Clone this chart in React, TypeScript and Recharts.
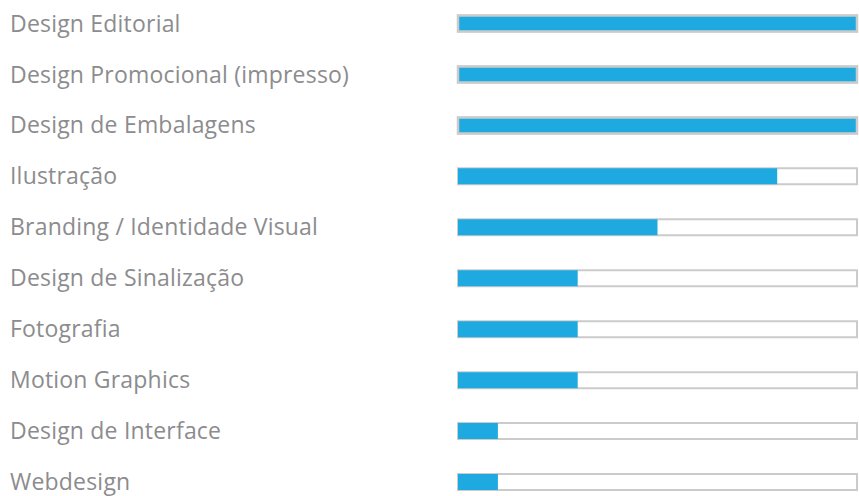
import React from 'react';
import { BarChart, Bar, XAxis, YAxis, Cell } from 'recharts';

const categories = [
  'Design Editorial',
  'Design Promocional (impresso)',
  'Design de Embalagens',
  'Ilustração',
  'Branding / Identidade Visual',
  'Design de Sinalização',
  'Fotografia',
  'Motion Graphics',
  'Design de Interface',
  'Webdesign',
];
const skillValues = [100, 100, 100, 80, 50, 30, 30, 30, 10, 10];
const MAX_VALUE = 100;

const data = categories.map((name, i) => ({ name, value: skillValues[i] }));

const BLUE = '#1eaae1';
const TRACK = '#cbcbcb';

// left-aligned label at the page edge
const LabelTick = (props: any) => {
  const { y, payload } = props;
  return (
    <text
      x={10}
      y={y}
      dy="0.33em"
      textAnchor="start"
      fill="#8c8c8e"
      fontSize={23}
      letterSpacing={0.2}
      fontFamily="'Open Sans', sans-serif"
    >
      {payload.value}
    </text>
  );
};

export default function App() {
  return (
    <div style={{ position: 'absolute', left: 0, top: 0, width: 859, height: 496, overflow: 'hidden', background: '#fff' }}>
      <BarChart
        width={859}
        height={508}
        data={data}
        layout="vertical"
        margin={{ top: -1.5, right: 2, bottom: 0, left: 0 }}
        barCategoryGap={0}
      >
        <XAxis type="number" domain={[0, MAX_VALUE]} hide />
        <YAxis
          type="category"
          dataKey="name"
          width={458}
          axisLine={false}
          tickLine={false}
          tick={<LabelTick />}
          interval={0}
        />
        <Bar
          dataKey="value"
          barSize={16}
          fill={BLUE}
          isAnimationActive={false}
          background={{ fill: '#ffffff', stroke: TRACK, strokeWidth: 2 }}
        >
          {data.map((d, i) => (
            <Cell
              key={`cell-${i}`}
              fill={BLUE}
              stroke={d.value >= MAX_VALUE ? TRACK : 'none'}
              strokeWidth={d.value >= MAX_VALUE ? 2.5 : 0}
            />
          ))}
        </Bar>
      </BarChart>
    </div>
  );
}
